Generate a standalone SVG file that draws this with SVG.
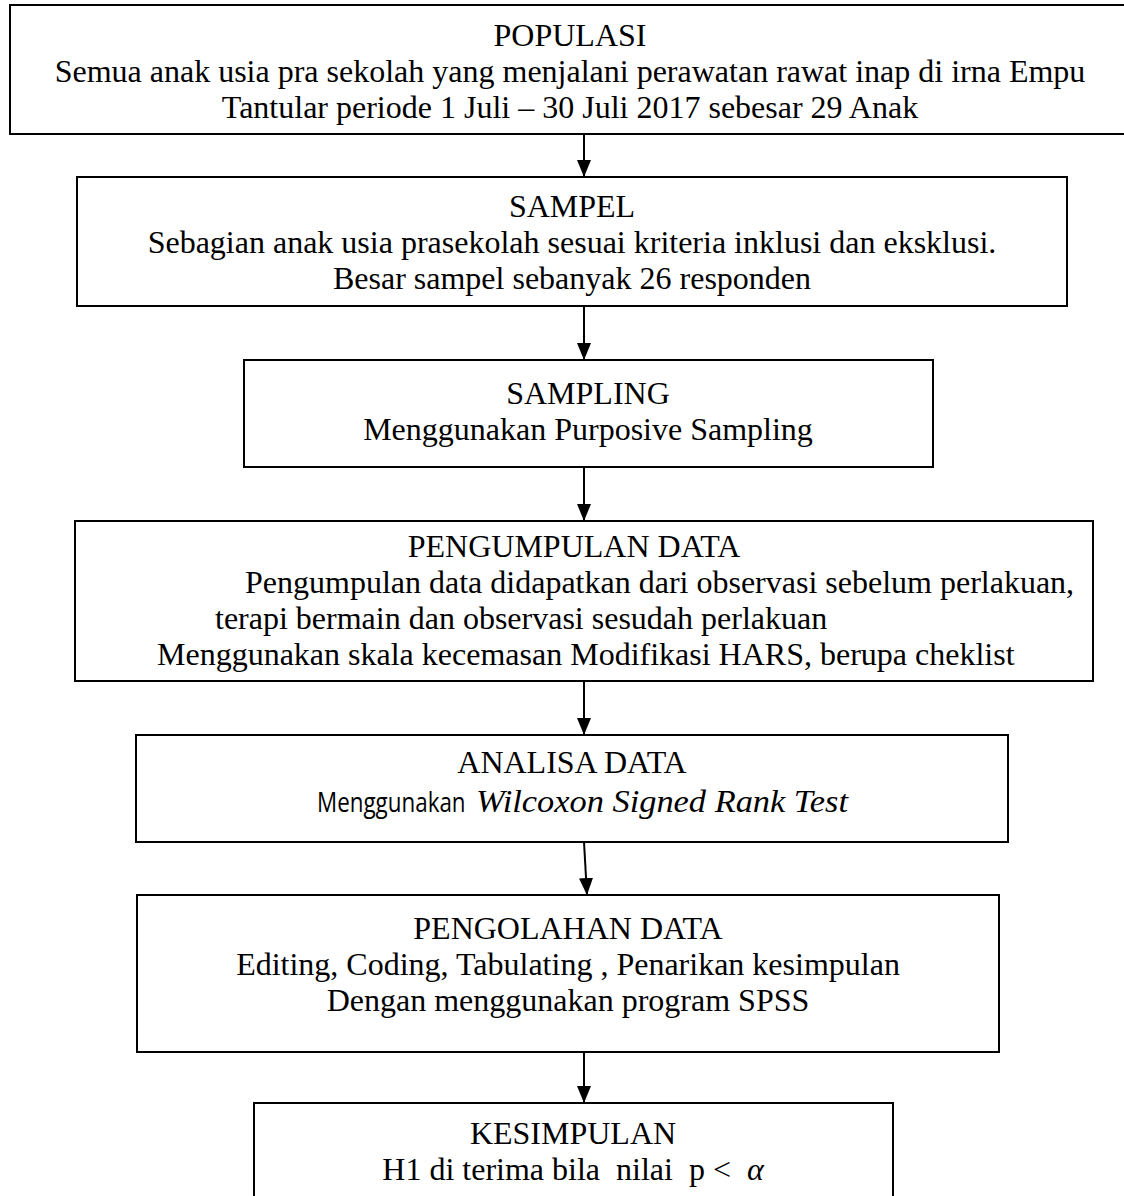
<svg xmlns="http://www.w3.org/2000/svg" width="1124" height="1196" viewBox="0 0 1124 1196">
<style>
.box{fill:#fff;stroke:#000;stroke-width:2}
.t{font-family:"Liberation Serif","Times New Roman",serif;font-size:32px;fill:#000}
.c{text-anchor:middle}
.s{font-family:"Open Sans","Liberation Sans",sans-serif;font-size:28px}
.i{font-style:italic}
.ln{stroke:#000;stroke-width:2;fill:none}
</style>
<defs>
<marker id="arr" markerWidth="17" markerHeight="14" refX="17" refY="7" orient="auto" markerUnits="userSpaceOnUse" viewBox="0 0 17 14">
<path d="M0,0 L17,7 L0,14 Z" fill="#000"/>
</marker>
</defs>
<rect width="1124" height="1196" fill="#fff"/>
<g id="connectors">
<line class="ln" x1="584" y1="134" x2="584" y2="177" marker-end="url(#arr)"/>
<line class="ln" x1="584" y1="306" x2="584" y2="360" marker-end="url(#arr)"/>
<line class="ln" x1="584" y1="467" x2="584" y2="521" marker-end="url(#arr)"/>
<line class="ln" x1="584" y1="681" x2="584" y2="735" marker-end="url(#arr)"/>
<line class="ln" x1="584" y1="842" x2="587" y2="895" marker-end="url(#arr)"/>
<line class="ln" x1="584" y1="1052" x2="584" y2="1103" marker-end="url(#arr)"/>
</g>
<g id="populasi">
<rect class="box" x="10" y="5" width="1130" height="129"/>
<text class="t c" x="570" y="46">POPULASI</text>
<text class="t c" x="570" y="82">Semua anak usia pra sekolah yang menjalani perawatan rawat inap di irna Empu</text>
<text class="t c" x="570" y="118">Tantular periode 1 Juli – 30 Juli 2017 sebesar 29 Anak</text>
</g>
<g id="sampel">
<rect class="box" x="77" y="177" width="990" height="129"/>
<text class="t c" x="572" y="217">SAMPEL</text>
<text class="t c" x="572" y="253">Sebagian anak usia prasekolah sesuai kriteria inklusi dan eksklusi.</text>
<text class="t c" x="572" y="289">Besar sampel sebanyak 26 responden</text>
</g>
<g id="sampling">
<rect class="box" x="244" y="360" width="689" height="107"/>
<text class="t c" x="588" y="404">SAMPLING</text>
<text class="t c" x="588" y="440">Menggunakan Purposive Sampling</text>
</g>
<g id="pengumpulan">
<rect class="box" x="75" y="521" width="1018" height="160"/>
<text class="t c" x="574" y="557">PENGUMPULAN DATA</text>
<text class="t" x="245" y="593">Pengumpulan data didapatkan dari observasi sebelum perlakuan,</text>
<text class="t" x="215" y="629">terapi bermain dan observasi sesudah perlakuan</text>
<text class="t" x="157" y="665">Menggunakan skala kecemasan Modifikasi HARS, berupa cheklist</text>
</g>
<g id="analisa">
<rect class="box" x="136" y="735" width="872" height="107"/>
<text class="t c" x="572" y="773">ANALISA DATA</text>
<text class="s" transform="translate(317 812) scale(0.8 1)" x="0" y="0">Menggunakan</text>
<text class="t i" x="476" y="812" textLength="372" lengthAdjust="spacingAndGlyphs">Wilcoxon Signed Rank Test</text>
</g>
<g id="pengolahan">
<rect class="box" x="137" y="895" width="862" height="157"/>
<text class="t c" x="568" y="939">PENGOLAHAN DATA</text>
<text class="t c" x="568" y="975">Editing, Coding, Tabulating , Penarikan kesimpulan</text>
<text class="t c" x="568" y="1011">Dengan menggunakan program SPSS</text>
</g>
<g id="kesimpulan">
<rect class="box" x="254" y="1103" width="639" height="110"/>
<text class="t c" x="573" y="1144">KESIMPULAN</text>
<text class="t c" x="573" y="1180" xml:space="preserve">H1 di terima bila  nilai  p &lt;  <tspan class="i">α</tspan></text>
</g>
</svg>
